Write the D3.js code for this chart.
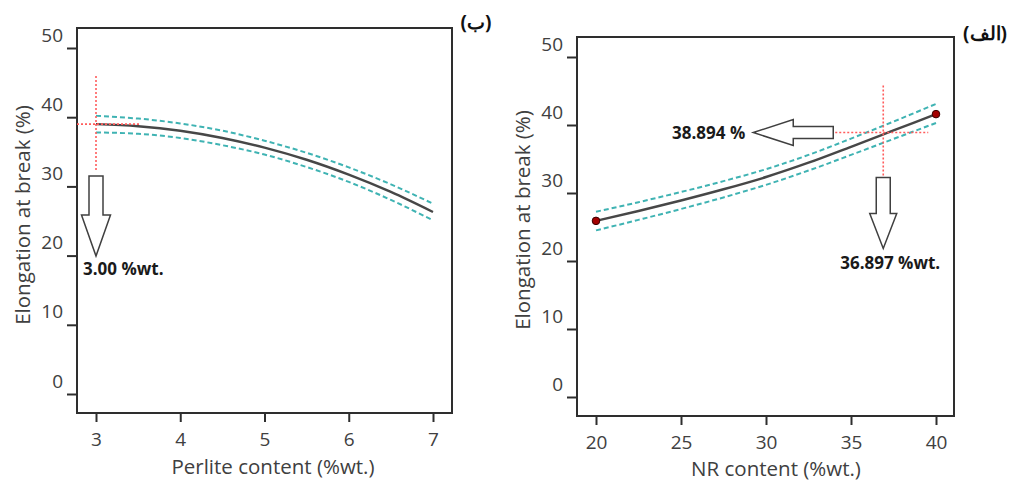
<!DOCTYPE html>
<html>
<head>
<meta charset="utf-8">
<script src="https://cdn.jsdelivr.net/npm/d3@7"></script>
<style>
  html, body { margin: 0; padding: 0; background: #fff; }
  svg { display: block; }
  text { font-family: "Open Sans", "Noto Sans", sans-serif; }
</style>
</head>
<body>
<svg id="chart" width="1009" height="481"></svg>
<script>
// ---------- DATA ----------
// Panel (ب): Perlite content
const perliteX      = [3, 3.5, 4, 4.5, 5, 5.5, 6, 6.5, 7];
const perliteFit    = [39.0, 38.7, 38.05, 37.0, 35.6, 33.85, 31.7, 29.2, 26.3];
const perliteUpper  = [40.2, 39.8, 39.1, 38.05, 36.6, 34.85, 32.75, 30.3, 27.5];
const perliteLower  = [37.8, 37.6, 37.0, 35.95, 34.6, 32.8, 30.65, 28.05, 25.1];
const perliteOptX   = 3.00;
const perliteOptY   = 39.0;
const perliteTicks  = [3, 4, 5, 6, 7];

// Panel (الف): NR content
const nrX           = [20, 22.5, 25, 27.5, 30, 32.5, 35, 37.5, 40];
const nrFit         = [25.9, 27.35, 28.9, 30.55, 32.35, 34.45, 36.8, 39.2, 41.6];
const nrUpper       = [27.25, 28.65, 30.15, 31.75, 33.5, 35.6, 38.0, 40.5, 43.1];
const nrLower       = [24.5, 26.05, 27.65, 29.35, 31.2, 33.3, 35.6, 37.95, 40.3];
const nrOptX        = 36.897;
const nrOptY        = 38.894;
const nrTicks       = [20, 25, 30, 35, 40];

const yTicks        = [0, 10, 20, 30, 40, 50];
const yTitle        = "Elongation at break (%)";
const perliteTitle  = "Perlite content (%wt.)";
const nrTitle       = "NR content (%wt.)";
const perliteLabel  = "3.00 %wt.";
const nrXLabel      = "36.897 %wt.";
const nrYLabel      = "38.894 %";
const panelB        = "(ب)";
const panelA        = "(الف)";

// ---------- DRAW ----------
const svg = d3.select("#chart");
const TXT = "#404040", FRAME = "#2e2e2e", FIT = "#474747", BAND = "#3fb3b3", RED = "#ff5c5c";

function panel(cfg) {
  const g = svg.append("g");
  const x = d3.scaleLinear().domain(cfg.xDomain).range(cfg.xRange);
  const y = d3.scaleLinear().domain([0, 50]).range(cfg.yRange);
  const f = cfg.frame;

  // frame
  g.append("rect").attr("x", f.l).attr("y", f.t).attr("width", f.r - f.l).attr("height", f.b - f.t)
    .attr("fill", "none").attr("stroke", FRAME).attr("stroke-width", 2);

  // x axis
  const xa = g.append("g").attr("transform", `translate(0,${f.b})`)
    .call(d3.axisBottom(x).tickValues(cfg.xTicks).tickSize(9).tickPadding(11).tickFormat(d3.format("d")));
  xa.select(".domain").remove();
  xa.selectAll("line").attr("stroke", FRAME).attr("stroke-width", 2);
  xa.selectAll("text").attr("fill", TXT).style("font-size", "19px");

  // y axis
  const ya = g.append("g").attr("transform", `translate(${f.l},0)`)
    .call(d3.axisLeft(y).tickValues(yTicks).tickSize(10).tickPadding(4).tickFormat(d3.format("d")));
  ya.select(".domain").remove();
  ya.selectAll("line").attr("stroke", FRAME).attr("stroke-width", 2);
  ya.selectAll("text").attr("fill", TXT).style("font-size", "19px").attr("y", -13);

  // titles
  g.append("text").attr("x", (f.l + f.r) / 2 + cfg.xTitleShift).attr("y", cfg.xTitleY)
    .attr("text-anchor", "middle").attr("fill", TXT).style("font-size", "20.5px").text(cfg.xTitle);
  g.append("text").attr("transform", `translate(${cfg.yTitleX},${cfg.yTitleY}) rotate(-90)`)
    .attr("text-anchor", "middle").attr("dominant-baseline", "central")
    .attr("fill", TXT).style("font-size", "20.5px").text(yTitle);

  // curves
  const pts = (ys) => cfg.xs.map((v, i) => [v, ys[i]]);
  const line = d3.line().x(d => x(d[0])).y(d => y(d[1])).curve(d3.curveMonotoneX);
  g.append("path").attr("d", line(pts(cfg.upper))).attr("fill", "none")
    .attr("stroke", BAND).attr("stroke-width", 2).attr("stroke-dasharray", "5,3");
  g.append("path").attr("d", line(pts(cfg.lower))).attr("fill", "none")
    .attr("stroke", BAND).attr("stroke-width", 2).attr("stroke-dasharray", "5,3");
  g.append("path").attr("d", line(pts(cfg.fit))).attr("fill", "none")
    .attr("stroke", FIT).attr("stroke-width", 2.4);

  return { g, x, y };
}

// Left panel (ب)
const L = panel({
  xDomain: [3, 7], xRange: [96, 433], yRange: [394, 48],
  frame: { l: 77, r: 452, t: 28, b: 413 },
  xTicks: perliteTicks, xTitle: perliteTitle, xTitleY: 474, xTitleShift: 8.5,
  yTitleX: 22, yTitleY: 215,
  xs: perliteX, fit: perliteFit, upper: perliteUpper, lower: perliteLower
});

// Right panel (الف)
const R = panel({
  xDomain: [20, 40], xRange: [596, 936], yRange: [397, 57],
  frame: { l: 577, r: 954, t: 37, b: 416 },
  xTicks: nrTicks, xTitle: nrTitle, xTitleY: 476, xTitleShift: 10.5,
  yTitleX: 522, yTitleY: 220,
  xs: nrX, fit: nrFit, upper: nrUpper, lower: nrLower
});

// endpoint dots on right panel
R.g.selectAll("circle.end").data([[nrX[0], nrFit[0]], [nrX[nrX.length - 1], nrFit[nrFit.length - 1]]])
  .enter().append("circle").attr("class", "end")
  .attr("cx", d => R.x(d[0])).attr("cy", d => R.y(d[1])).attr("r", 3.8)
  .attr("fill", "#a30000").attr("stroke", "#3a0000").attr("stroke-width", 1);

// ---------- annotations ----------
function dotted(g, x1, y1, x2, y2) {
  g.append("line").attr("x1", x1).attr("y1", y1).attr("x2", x2).attr("y2", y2)
    .attr("stroke", RED).attr("stroke-width", 1.6).attr("stroke-dasharray", "2,2");
}
function downArrow(g, cx, top, shaftBot, tip, sw, hw) {
  const p = [[cx - sw, top], [cx + sw, top], [cx + sw, shaftBot], [cx + hw, shaftBot], [cx, tip],
             [cx - hw, shaftBot], [cx - sw, shaftBot]];
  g.append("path").attr("d", d3.line()(p) + "Z").attr("fill", "#fff")
    .attr("stroke", "#404040").attr("stroke-width", 1.5);
}
function leftArrow(g, cy, tail, headBase, tip, sw, hw) {
  const p = [[tail, cy - sw], [tail, cy + sw], [headBase, cy + sw], [headBase, cy + hw], [tip, cy],
             [headBase, cy - hw], [headBase, cy - sw]];
  g.append("path").attr("d", d3.line()(p) + "Z").attr("fill", "#fff")
    .attr("stroke", "#404040").attr("stroke-width", 1.5);
}
function boldLabel(g, x, y, txt, anchor) {
  g.append("text").attr("x", x).attr("y", y).attr("text-anchor", anchor || "start")
    .attr("fill", "#1a1a1a").style("font-size", "17px").style("font-weight", "bold").text(txt);
}

// left crosshair
{
  const px = L.x(perliteOptX), py = L.y(perliteOptY);
  dotted(L.g, px, py - 48, px, py + 46);
  dotted(L.g, 77, py, px + 44, py);
  downArrow(L.g, px, py + 52, py + 91, py + 132, 7, 14.5);
  boldLabel(L.g, px - 13, py + 151, perliteLabel);
}
// right crosshair
{
  const px = R.x(nrOptX), py = R.y(nrOptY);
  dotted(R.g, px, py - 47, px, py + 45);
  dotted(R.g, px - 48, py, px + 45, py);
  downArrow(R.g, px, py + 45, py + 81, py + 116, 7, 13.5);
  boldLabel(R.g, px - 43, py + 136, nrXLabel);
  leftArrow(R.g, py, px - 50, px - 90, px - 130, 6, 13);
  boldLabel(R.g, px - 138, py + 6, nrYLabel, "end");
}

// panel labels
svg.append("text").attr("x", 476).attr("y", 29).attr("text-anchor", "middle")
  .attr("fill", "#111").style("font-size", "19px").style("font-weight", "bold").text(panelB);
svg.append("text").attr("x", 985).attr("y", 40).attr("text-anchor", "middle")
  .attr("fill", "#111").style("font-size", "19px").style("font-weight", "bold").text(panelA);
</script>
</body>
</html>
